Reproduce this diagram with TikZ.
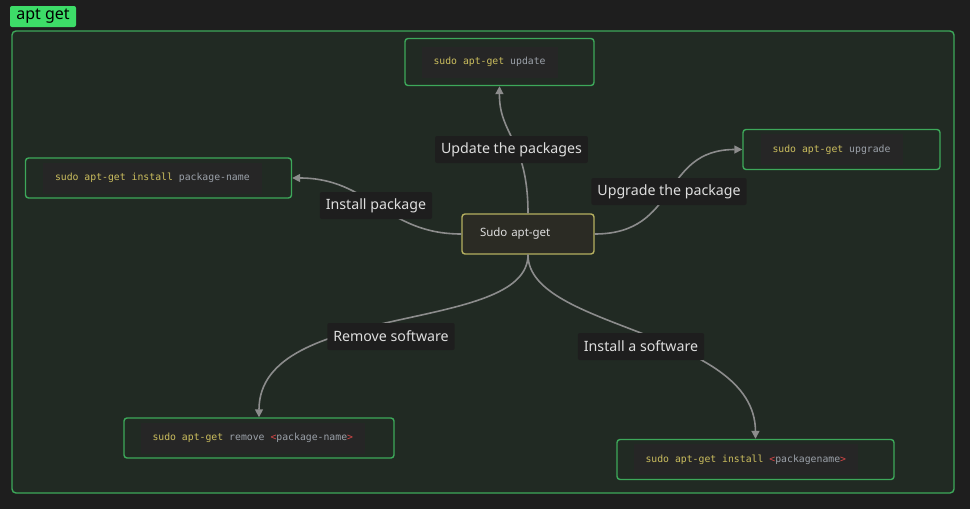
\documentclass[tikz,border=0pt]{standalone}
\usepackage{fontspec}
\setmainfont{Noto Sans}
\setmonofont{DejaVu Sans Mono}
\usepackage{tikz}
\usetikzlibrary{arrows.meta, positioning}

\definecolor{bgdark}{HTML}{1E1E1E}
\definecolor{groupfill}{HTML}{212A23}
\definecolor{groupline}{HTML}{3DA85A}
\definecolor{titlegreen}{HTML}{3DDC68}
\definecolor{codefill}{HTML}{262626}
\definecolor{codeyellow}{HTML}{CBBE5E}
\definecolor{codegrey}{HTML}{9CA2AA}
\definecolor{codered}{HTML}{D94848}
\definecolor{rootline}{HTML}{B5B060}
\definecolor{rootfill}{HTML}{2B2B24}
\definecolor{edgegrey}{HTML}{8C8C8C}
\definecolor{labeltext}{HTML}{DEDEDE}

\begin{document}
\begin{tikzpicture}[
                x=1pt, y=-1pt,
                cmdbox/.style={draw=groupline, line width=1.4pt, rounded corners=3pt, minimum height=40pt},
                codebox/.style={fill=codefill, anchor=west, minimum height=31pt, inner xsep=12pt, font=\ttfamily\fontsize{9.8}{11}\selectfont, text=codegrey},
                edgelabel/.style={fill=bgdark, rounded corners=2pt, minimum height=27pt, inner xsep=6pt, text=labeltext, font=\fontsize{14.2}{16}\selectfont},
                edge/.style={draw=edgegrey, line width=1.6pt, -{Triangle[length=8pt,width=8pt]}}]

            % Fond
            \fill[bgdark] (0,0) rectangle (970,509);
            \useasboundingbox (0,0) rectangle (970,509);
            \draw[groupline, fill=groupfill, line width=1.4pt, rounded corners=4pt] (12,31) rectangle (954,493);
            \node[fill=titlegreen, rounded corners=2pt, minimum width=66pt, minimum height=21pt, inner sep=0pt, font=\fontsize{16}{18}\selectfont] (title) at (43,16.5) {apt get};

            % Noeuds
            \node[draw=rootline, fill=rootfill, line width=1.4pt, rounded corners=3pt, minimum width=132pt, minimum height=40pt, text=labeltext, font=\fontsize{11.5}{13}\selectfont, text width=96pt] (root) at (528,234) {Sudo apt-get};

            \node[cmdbox, minimum width=189pt, minimum height=47pt] (update) at (499.5,62) {};
            \node[codebox] (updatecode) at ([xshift=17pt]update.west) {\textcolor{codeyellow}{sudo apt-get} update\hspace{8pt}};

            \node[cmdbox, minimum width=266pt] (install) at (158.5,178) {};
            \node[codebox] (installcode) at ([xshift=18pt]install.west) {\textcolor{codeyellow}{sudo apt-get install} package-name\hspace{8pt}};

            \node[cmdbox, minimum width=197pt] (upgrade) at (841.5,149.5) {};
            \node[codebox] (upgradecode) at ([xshift=18pt]upgrade.west) {\textcolor{codeyellow}{sudo apt-get} upgrade\hspace{8pt}};

            \node[cmdbox, minimum width=270pt] (remove) at (259,438) {};
            \node[codebox] (removecode) at ([xshift=17pt]remove.west) {\textcolor{codeyellow}{sudo apt-get} remove \textcolor{codered}{<}package-name\textcolor{codered}{>}\hspace{8pt}};

            \node[cmdbox, minimum width=277pt] (software) at (755.5,459.5) {};
            \node[codebox] (softwarecode) at ([xshift=17pt]software.west) {\textcolor{codeyellow}{sudo apt-get install} \textcolor{codered}{<}packagename\textcolor{codered}{>}\hspace{8pt}};

            % Liens
            \draw[edge] (root.north) .. controls (528,140) and (499,135) .. (update.south);
            \draw[edge] (root.west) .. controls (385,234) and (370,178) .. (install.east);
            \draw[edge] (root.east) .. controls (680,234) and (660,149.5) .. (upgrade.west);
            \draw[edge] (root.south) .. controls (528,335) and (259,300) .. (remove.north);
            \draw[edge] (root.south) .. controls (528,330) and (755,330) .. (software.north);

            % Etiquettes
            \node[edgelabel] (lupdate) at (511.5,149.5) {Update the packages};
            \node[edgelabel] (linstall) at (376,205.5) {Install package};
            \node[edgelabel] (lupgrade) at (669,191.5) {Upgrade the package};
            \node[edgelabel] (lremove) at (391,336.5) {Remove software};
            \node[edgelabel] (lsoftware) at (641,346.5) {Install a software};

        \end{tikzpicture}
\end{document}
